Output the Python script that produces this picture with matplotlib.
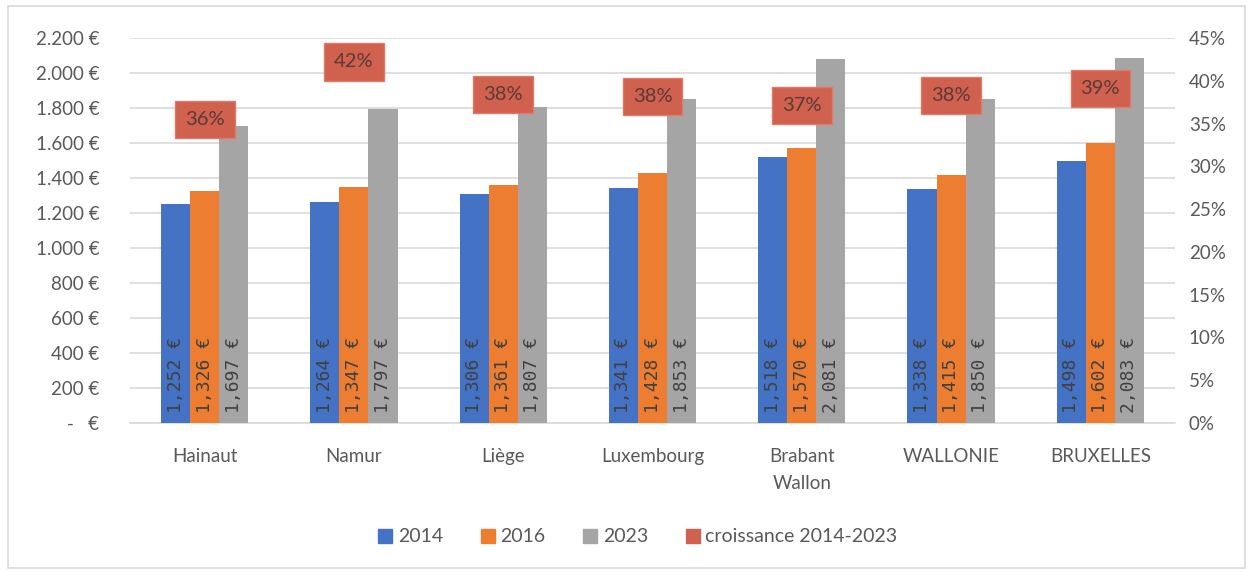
import matplotlib
matplotlib.use("Agg")
import matplotlib.pyplot as plt
from matplotlib.patches import Rectangle
from matplotlib.lines import Line2D
import numpy as np

categories = ["Hainaut", "Namur", "Liège", "Luxembourg", "Brabant\nWallon", "WALLONIE", "BRUXELLES"]
v2014 = [1252, 1264, 1306, 1341, 1518, 1338, 1498]
v2016 = [1326, 1347, 1361, 1428, 1570, 1415, 1602]
v2023 = [1697, 1797, 1807, 1853, 2081, 1850, 2083]
growth = [0.355, 0.422, 0.384, 0.382, 0.371, 0.383, 0.391]
series_names = ["2014", "2016", "2023", "croissance 2014-2023"]
left_ticks = list(range(0, 2201, 200))
right_ticks = [i / 100 for i in range(0, 46, 5)]

colors = ["#4472C4", "#ED7D31", "#A5A5A5"]
red = "#D0614F"
txt = "#595959"

plt.rcParams['font.family'] = ['Lato', 'DejaVu Sans']

fig = plt.figure(figsize=(12.53, 5.72), dpi=100)
fig.patches.append(Rectangle((8 / 1253, 4 / 572), 1237 / 1253, 562 / 572, transform=fig.transFigure,
                             fill=False, edgecolor="#D9D9D9", linewidth=1.2))
ax = fig.add_axes([130 / 1253, 1 - 423 / 572, 1045 / 1253, 385 / 572])
ax2 = ax.twinx()

x = np.arange(len(categories))
w = 0.195
for i, (vals, c) in enumerate(zip([v2014, v2016, v2023], colors)):
    pos = x + (i - 1) * w
    ax.bar(pos, vals, width=w, color=c, zorder=3)
    for p, v in zip(pos, vals):
        s = f"{v:,} €"
        ax.annotate(s, (p, 0), xytext=(0, 7), textcoords="offset points", rotation=90,
                    ha="center", va="bottom", fontsize=13, color="#404040",
                    family="DejaVu Sans Mono", zorder=4)

ax.set_xlim(-0.5, len(categories) - 0.5)
ax.set_ylim(0, 2200)
ax.set_yticks(left_ticks)
ax.set_yticklabels(["-   €" if t == 0 else f"{t:,}".replace(",", ".") + " €" for t in left_ticks])
ax.set_xticks(x)
ax.set_xticklabels(categories, linespacing=1.7)
ax.grid(axis="y", color="#D9D9D9", linewidth=1.2, zorder=0)
ax.set_axisbelow(True)
for s in ["top", "right", "left"]:
    ax.spines[s].set_visible(False)
ax.spines["bottom"].set_color("#D9D9D9")
ax.spines["bottom"].set_linewidth(1.2)
ax.tick_params(axis="both", length=0, colors=txt, labelsize=13.5)
ax.tick_params(axis="y", pad=22)
ax.tick_params(axis="x", pad=18)

ax2.set_ylim(0, 0.45)
ax2.set_yticks(right_ticks)
ax2.set_yticklabels([f"{int(round(t * 100))}%" for t in right_ticks])
ax2.tick_params(axis="y", length=0, colors=txt, labelsize=13.5, pad=10)
for s in ax2.spines.values():
    s.set_visible(False)
ax2.plot(x, growth, ls="none", marker="s", color=red, markersize=4, zorder=5)
for xi, g in zip(x, growth):
    ax2.text(xi, g, f"{int(round(g * 100))}%", ha="center", va="center", fontsize=14.5,
             color="#5a3a35", zorder=6,
             bbox=dict(boxstyle="square,pad=0.5", facecolor=red, edgecolor="#E07A68", linewidth=1))

handles = [Line2D([], [], ls="none", marker="s", markersize=10, color=c) for c in colors + [red]]
fig.legend(handles, series_names, loc="center", bbox_to_anchor=(0.508, 1 - 537 / 572), ncol=4,
           frameon=False, fontsize=14, labelcolor=txt, handletextpad=0.15, columnspacing=1.8,
           handlelength=1.0)

fig.savefig("out.png", dpi=100)
